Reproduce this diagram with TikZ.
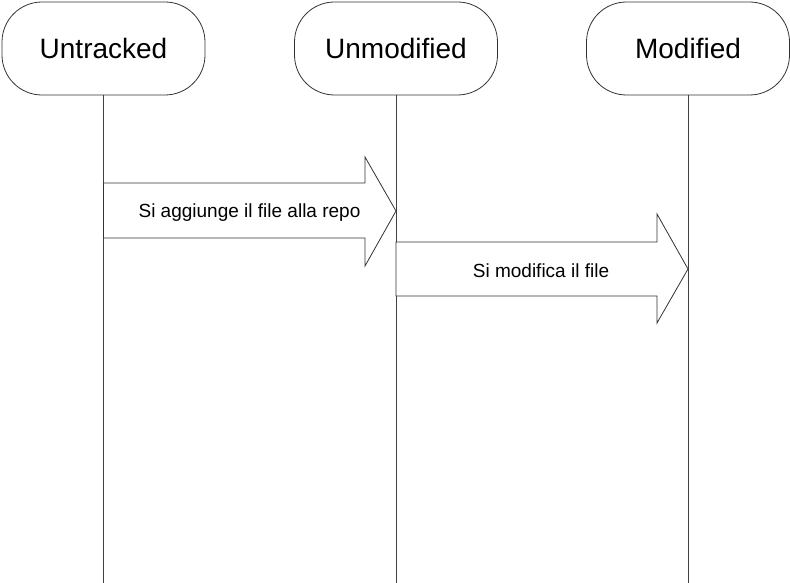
\documentclass[tikz,border=0pt]{standalone}
\usepackage{fontspec}
\setmainfont{Liberation Sans}

\begin{document}
\begin{tikzpicture}[
        x=1pt, y=-1pt,
        state/.style={draw=black!80, line width=0.8pt, rounded corners=40pt,
            minimum width=203pt, minimum height=93pt, inner sep=0pt,
            font=\fontsize{28}{32}\selectfont},
        lifeline/.style={draw=black!75, line width=0.8pt},
        block arrow/.style={draw=black!80, fill=white, line width=0.8pt,
            line join=miter},
        msg/.style={font=\fontsize{19}{23}\selectfont},
    ]

    \useasboundingbox (0,0) rectangle (790,583);

    \node[state] (untracked) at (103.5,48.5) {Untracked};
    \node[state] (unmodified) at (396,48.5) {Unmodified};
    \node[state] (modified) at (688,48.5) {Modified};

    \coordinate (untracked end) at (103.5,583);
    \coordinate (unmodified end) at (396,583);
    \coordinate (modified end) at (688,583);

    \draw[lifeline] (untracked) -- (untracked end);
    \draw[lifeline] (unmodified) -- (unmodified end);
    \draw[lifeline] (modified) -- (modified end);

    \draw[block arrow] (103.5,183) -- (365,183) -- (365,157) -- (396,211)
        -- (365,266) -- (365,238) -- (103.5,238) -- cycle;
    \node[msg] (add) at (249.5,213) {Si aggiunge il file alla repo};

    \draw[block arrow] (396,242) -- (657,242) -- (657,214) -- (688,269)
        -- (657,323) -- (657,296) -- (396,296) -- cycle;
    \node[msg] (edit) at (541,271) {Si modifica il file};

\end{tikzpicture}
\end{document}
